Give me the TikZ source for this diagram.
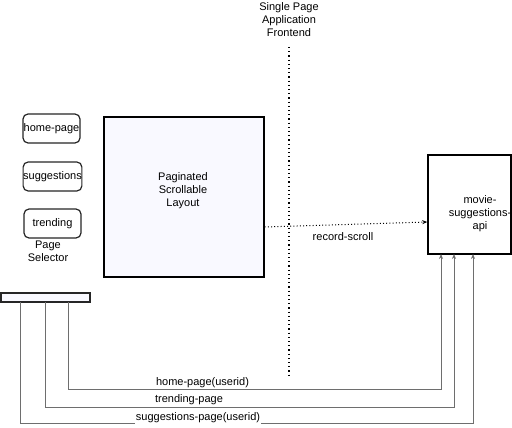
\documentclass[tikz,border=0pt]{standalone}
\usepackage{fontspec}
\setmainfont{Liberation Sans}
\usetikzlibrary{arrows.meta}
\definecolor{boxfill}{HTML}{F9F9FF}
\definecolor{linegray}{HTML}{6E6E6E}
\tikzset{
  base/.style={font=\fontsize{11}{13}\selectfont, align=center},
  selbox/.style={base, draw=black!85, line width=1.2pt, rounded corners=5pt, fill=white, minimum width=57pt, minimum height=29pt, inner sep=0pt},
  bigbox/.style={draw=black, line width=1.3pt, fill=boxfill, minimum width=160pt, minimum height=160pt, inner sep=0pt},
  apibox/.style={draw=black, line width=1.5pt, fill=white, minimum width=83pt, minimum height=99pt, inner sep=0pt},
  barbox/.style={draw=black!85, line width=1.3pt, fill=boxfill, minimum width=89pt, minimum height=9pt, inner sep=0pt},
  txt/.style={base, inner sep=0pt},
  conn/.style={draw=linegray, line width=0.8pt, -{Stealth[length=5pt,width=4pt]}},
  lbl/.style={base, fill=white, inner sep=1pt},
  dotline/.style={line width=1.2pt, dash pattern=on 1.2pt off 3pt},
  dotarrow/.style={line width=1pt, dash pattern=on 1pt off 2.2pt, -{Stealth[length=5pt,width=4pt]}}
}
\begin{document}
\begin{tikzpicture}[x=1pt,y=-1pt]
\useasboundingbox (0,0) rectangle (512,428);
% title and divider
\node[txt] (title) at (289,20) {Single Page\\Application\\Frontend};
\coordinate (dtop) at (289,47);
\coordinate (dbot) at (289,377);
\draw[dotline] (dtop) -- (dbot);
% page selector
\node[selbox] (home) at (51.5,128.5) {home-page};
\node[selbox] (sugg) at (52.5,176.5) {suggestions};
\node[selbox] (trend) at (52.5,223.5) {trending};
\node[txt] (psel) at (48,251) {Page\\Selector};
% main layout
\node[bigbox] (pag) at (184,197) {};
\node[txt] (pagtxt) at (183,191) {Paginated\\Scrollable\\Layout};
% api
\node[apibox] (api) at (469.5,204.5) {};
\node[txt] (apitxt) at (480,214) {movie-\\suggestions-\\api};
% bar
\node[barbox] (bar) at (45.5,297.5) {};
% record-scroll
\draw[dotarrow] ([yshift=-30pt]pag.east) -- ([yshift=-17.5pt]api.west);
\node[txt] (rs) at (343,237) {record-scroll};
% connectors
\coordinate (hs) at (68,302);  \coordinate (he) at (441,254);
\coordinate (ts) at (45,302);  \coordinate (te) at (454,254);
\coordinate (ss) at (20,302);  \coordinate (se) at (473,254);
\draw[conn] (hs) -- (68,389) -- (441,389) -- (he);
\draw[conn] (ts) -- (45,407) -- (454,407) -- (te);
\draw[conn] (ss) -- (20,423) -- (473,423) -- (se);
\node[lbl] (l1) at (202.5,383) {home-page(userid)};
\node[lbl] (l2) at (189,400) {trending-page};
\node[lbl] (l3) at (198,418) {suggestions-page(userid)};
\end{tikzpicture}
\end{document}
